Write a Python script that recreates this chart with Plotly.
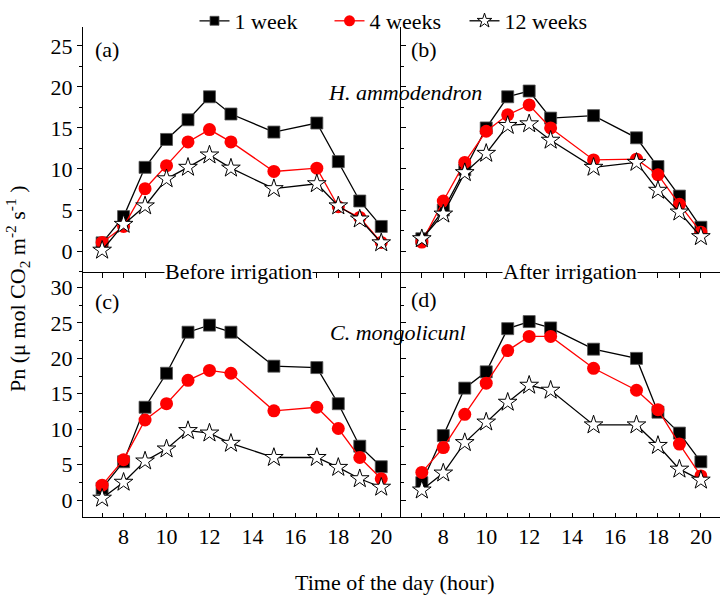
import plotly.graph_objects as go

# hours of the day
hours = [7, 8, 9, 10, 11, 12, 13, 15, 17, 18, 19, 20]
series_names = ["1 week", "4 weeks", "12 weeks"]

# (a) H. ammodendron, before irrigation
a_1w = [1.0, 4.2, 10.2, 13.6, 16.0, 18.8, 16.7, 14.5, 15.6, 10.9, 6.1, 3.0]
a_4w = [1.05, 3.0, 7.6, 10.4, 13.3, 14.8, 13.3, 9.7, 10.1, 5.4, 4.1, 1.05]
a_12w = [0.1, 3.25, 5.5, 8.8, 10.2, 11.7, 10.1, 7.6, 8.2, 5.5, 3.9, 1.0]

# (b) H. ammodendron, after irrigation
b_1w = [1.5, 5.0, 9.9, 15.0, 18.8, 19.5, 16.2, 16.5, 13.8, 10.3, 6.7, 2.9]
b_4w = [1.1, 6.1, 10.8, 14.6, 16.6, 17.8, 15.0, 11.1, 11.2, 9.3, 5.7, 2.3]
b_12w = [1.5, 4.5, 9.55, 11.9, 15.3, 15.5, 13.5, 10.2, 10.8, 7.4, 4.75, 1.75]

# (c) C. mongolicunl, before irrigation
c_1w = [1.65, 5.4, 13.1, 17.9, 23.7, 24.7, 23.7, 18.9, 18.7, 13.6, 7.6, 4.7]
c_4w = [2.1, 5.7, 11.3, 13.6, 16.9, 18.3, 17.9, 12.6, 13.1, 10.1, 6.0, 3.0]
c_12w = [0.25, 2.5, 5.5, 7.2, 9.8, 9.45, 8.0, 6.0, 6.0, 4.6, 3.0, 1.8]

# (d) C. mongolicunl, after irrigation
d_1w = [2.45, 9.1, 15.8, 18.1, 24.2, 25.2, 24.3, 21.3, 20.0, 12.4, 9.45, 5.4]
d_4w = [3.9, 7.4, 12.1, 16.5, 21.1, 23.1, 23.1, 18.6, 15.5, 12.75, 7.9, 3.4]
d_12w = [1.4, 3.8, 8.1, 11.0, 13.8, 16.2, 15.5, 10.6, 10.6, 7.7, 4.35, 2.8]

panels = [
    ("x", "y", [a_1w, a_4w, a_12w]),
    ("x2", "y2", [b_1w, b_4w, b_12w]),
    ("x3", "y3", [c_1w, c_4w, c_12w]),
    ("x4", "y4", [d_1w, d_4w, d_12w]),
]

lines = [dict(color="black", width=1.3), dict(color="red", width=1.3), dict(color="black", width=1.3)]
markers = [
    dict(symbol="square", size=12, color="black", line=dict(color="#555", width=0.8)),
    dict(symbol="circle", size=13, color="red", line=dict(color="red", width=0)),
    dict(symbol="star", size=14, color="white", line=dict(color="black", width=1)),
]
legend_sizes = [9, 11, 11]

FONT = "Liberation Serif"
FS = 22
W, H = 725, 598

fig = go.Figure()
for xa, ya, data in panels:
    for name, vals, ln, mk in zip(series_names, data, lines, markers):
        fig.add_trace(go.Scatter(
            x=hours, y=vals, name=name, mode="lines+markers",
            xaxis=xa, yaxis=ya, showlegend=False, line=ln, marker=mk))

# legend-only entries with the smaller symbols of the original legend
for name, ln, mk, sz in zip(series_names, lines, markers, legend_sizes):
    fig.add_trace(go.Scatter(
        x=[None], y=[None], name=name, mode="lines+markers",
        line=ln, marker=dict(mk, size=sz), showlegend=True))


def px_x(p):
    return p / W


def px_y(p):
    return 1 - p / H


left_dom = [px_x(83), px_x(401)]
right_dom = [px_x(401), px_x(720)]
top_dom = [px_y(272), px_y(27)]
bot_dom = [px_y(517), px_y(272)]

left_xr = [6.11, 20.92]
right_xr = [6.03, 20.89]
top_yr = [-2.55, 27.3]
bot_yr = [-2.4, 32.2]

ax_common = dict(showline=True, linecolor="black", linewidth=1, showgrid=False,
                 zeroline=False, tickcolor="black", tickfont=dict(family=FONT, size=FS, color="black"))

top_x = dict(ax_common, tickmode="linear", tick0=7, dtick=1, ticks="outside", ticklen=5,
             showticklabels=False)
bot_x = dict(ax_common, tickmode="linear", tick0=8, dtick=2, ticks="inside", ticklen=4,
             minor=dict(dtick=1, tick0=7, ticks="inside", ticklen=4, tickcolor="black"))
left_y = dict(ax_common, tickmode="linear", tick0=0, dtick=5, ticks="outside", ticklen=5,
              minor=dict(dtick=2.5, ticks="outside", ticklen=3, tickcolor="black"))
right_y = dict(ax_common, tickmode="linear", tick0=0, dtick=5, ticks="inside", ticklen=5,
               showticklabels=False,
               minor=dict(dtick=2.5, ticks="inside", ticklen=3, tickcolor="black"))

fig.update_layout(
    width=W, height=H,
    margin=dict(l=0, r=0, t=0, b=0),
    plot_bgcolor="white", paper_bgcolor="white",
    font=dict(family=FONT, size=FS, color="black"),
    xaxis=dict(top_x, domain=left_dom, range=left_xr, anchor="y"),
    yaxis=dict(left_y, domain=top_dom, range=top_yr, anchor="x"),
    xaxis2=dict(top_x, domain=right_dom, range=right_xr, anchor="y2"),
    yaxis2=dict(right_y, domain=top_dom, range=top_yr, anchor="x2"),
    xaxis3=dict(bot_x, domain=left_dom, range=left_xr, anchor="y3"),
    yaxis3=dict(left_y, domain=bot_dom, range=bot_yr, anchor="x3"),
    xaxis4=dict(bot_x, domain=right_dom, range=right_xr, anchor="y4"),
    yaxis4=dict(right_y, domain=bot_dom, range=bot_yr, anchor="x4"),
    legend=dict(orientation="h", x=px_x(397), xanchor="center", y=1.0, yanchor="top",
                font=dict(family=FONT, size=FS), bgcolor="rgba(0,0,0,0)",
                itemwidth=30, tracegroupgap=0, entrywidth=90),
)

ann = [
    ("(a)", 94, 50, "left", {}),
    ("(b)", 410, 50, "left", {}),
    ("(c)", 94, 301, "left", {}),
    ("(d)", 410, 299, "left", {}),
    ("<i>H. ammodendron</i>", 405, 92, "center", {}),
    ("<i>C. mongolicunl</i>", 398, 332, "center", {}),
    ("Before irrigation", 238, 271, "center", dict(bgcolor="white")),
    ("After irrigation", 570, 271, "center", dict(bgcolor="white")),
    ("Time of the day (hour)", 395, 582, "center", {}),
]
for text, x, y, xa, extra in ann:
    fig.add_annotation(text=text, x=px_x(x), y=px_y(y), xref="paper", yref="paper",
                       xanchor=xa, yanchor="middle", showarrow=False,
                       font=dict(family=FONT, size=FS, color="black"), borderpad=0, **extra)

fig.add_annotation(text="Pn (\u03bc mol CO<sub>2</sub> m<sup>-2</sup> s<sup>-1</sup> )",
                   x=px_x(17), y=px_y(289), xref="paper", yref="paper",
                   xanchor="center", yanchor="middle", textangle=-90, showarrow=False,
                   font=dict(family=FONT, size=FS, color="black"))

fig.write_html("out.html", config={"displayModeBar": False},
               post_script="document.body.style.margin='0';")
